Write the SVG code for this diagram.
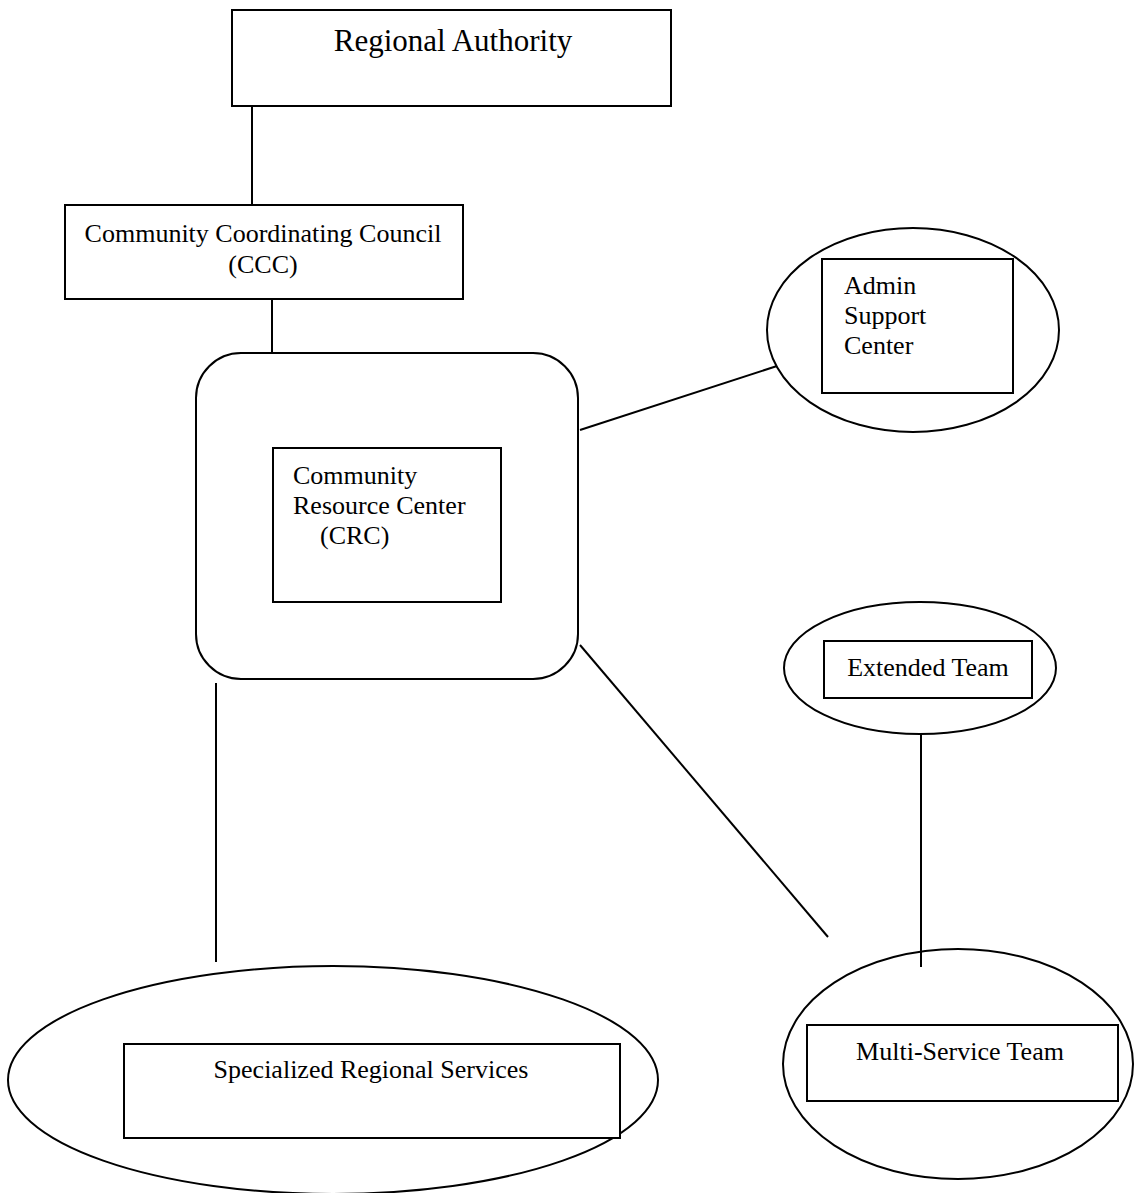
<svg xmlns="http://www.w3.org/2000/svg" width="1134" height="1193" viewBox="0 0 1134 1193">
<style>
.s{fill:none;stroke:#000;stroke-width:2}
.w{fill:#fff;stroke:#000;stroke-width:2}
text{font-family:"Liberation Serif","Times New Roman",serif;font-size:26px;fill:#000}
.c{text-anchor:middle}
</style>
<rect width="1134" height="1193" fill="#fff"/>
<g id="regional-authority">
<rect class="w" x="232" y="10" width="439" height="96"/>
<text class="c" x="453" y="51" style="font-size:31px">Regional Authority</text>
</g>
<g id="ccc">
<rect class="w" x="65" y="205" width="398" height="94"/>
<text class="c" x="263" y="242">Community Coordinating Council</text>
<text class="c" x="263" y="273">(CCC)</text>
</g>
<g id="crc">
<rect class="w" x="196" y="353" width="382" height="326" rx="45" ry="45"/>
<rect class="w" x="273" y="448" width="228" height="154"/>
<text x="293" y="484">Community</text>
<text x="293" y="514">Resource Center</text>
<text x="320" y="544">(CRC)</text>
</g>
<g id="admin-support">
<ellipse class="w" cx="913" cy="330" rx="146" ry="102"/>
<rect class="w" x="822" y="259" width="191" height="134"/>
<text x="844" y="294">Admin</text>
<text x="844" y="324">Support</text>
<text x="844" y="354">Center</text>
</g>
<g id="extended-team">
<ellipse class="w" cx="920" cy="668" rx="136" ry="66"/>
<rect class="w" x="824" y="641" width="208" height="57"/>
<text class="c" x="928" y="676">Extended Team</text>
</g>
<g id="multi-service">
<ellipse class="w" cx="958" cy="1064" rx="175" ry="115"/>
<rect class="w" x="807" y="1025" width="311" height="76"/>
<text class="c" x="960" y="1060">Multi-Service Team</text>
</g>
<g id="specialized">
<ellipse class="w" cx="333" cy="1080" rx="325" ry="114"/>
<rect class="w" x="124" y="1044" width="496" height="94"/>
<text class="c" x="371" y="1078">Specialized Regional Services</text>
</g>
<g id="connectors">
<line class="s" x1="252" y1="106" x2="252" y2="205"/>
<line class="s" x1="272" y1="299" x2="272" y2="353"/>
<line class="s" x1="580" y1="430" x2="777" y2="366"/>
<line class="s" x1="580" y1="645" x2="828" y2="937"/>
<line class="s" x1="216" y1="683" x2="216" y2="962"/>
<line class="s" x1="921" y1="734" x2="921" y2="967"/>
</g>
</svg>
